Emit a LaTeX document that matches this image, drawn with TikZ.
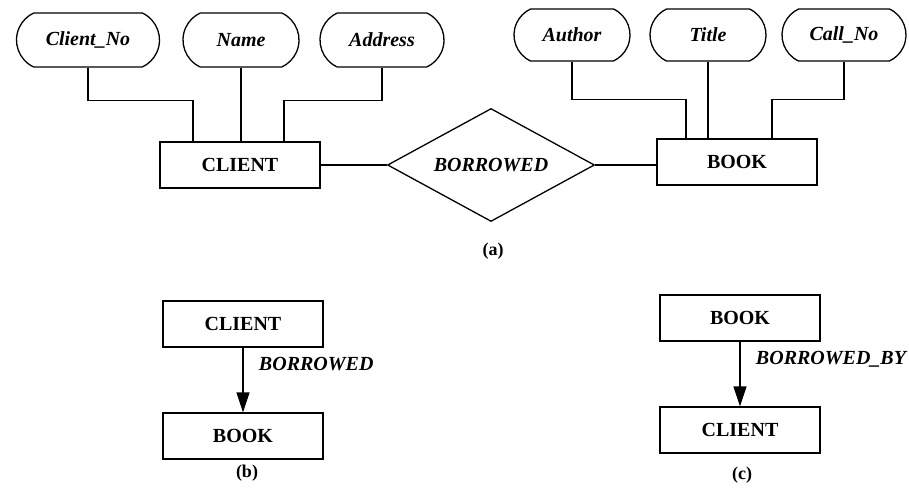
\documentclass[tikz,border=0pt]{standalone}
\usepackage{fontspec}
\setmainfont{Liberation Serif}
\usetikzlibrary{shapes.misc,shapes.geometric,arrows.meta}
\newcommand{\entfont}{\fontsize{20}{22}\selectfont\bfseries}
\newcommand{\attfont}{\fontsize{20}{22}\selectfont\bfseries\itshape}
\newcommand{\capfont}{\fontsize{18}{20}\selectfont\bfseries}
\tikzset{
  entity/.style={draw, line width=1.3pt, minimum width=160pt, minimum height=46pt, inner sep=2pt, font=\entfont},
  attrib/.style={draw, rounded rectangle, rounded rectangle arc length=130, line width=1.3pt, minimum height=54pt, inner sep=2pt, font=\attfont},
  relship/.style={draw, diamond, aspect=2, line width=1.3pt, minimum width=207pt, minimum height=113pt, inner sep=1pt, font=\attfont},
  link/.style={line width=1.3pt},
  flow/.style={line width=1.3pt, -{Triangle[length=20pt,width=13pt]}},
  caption/.style={font=\capfont}
}
\begin{document}
\begin{tikzpicture}[x=1pt, y=-1pt]
  \useasboundingbox (0,0) rectangle (909,489);
  % (a) attributes
  \node[attrib, minimum width=147pt] (cno) at (88,40) {Client\_No};
  \node[attrib, minimum width=120pt] (name) at (241,40) {Name};
  \node[attrib, minimum width=128pt] (addr) at (382,40) {Address};
  \node[attrib, minimum width=120pt, minimum height=52pt] (auth) at (572,35) {Author};
  \node[attrib, minimum width=120pt, minimum height=52pt] (title) at (708,35) {Title};
  \node[attrib, minimum width=128pt, minimum height=52pt] (callno) at (844,35) {Call\_No};
  % (a) entities and relationship
  \node[entity] (client) at (240,165) {CLIENT};
  \node[relship] (borrowed) at (491,165) {BORROWED};
  \node[entity] (book) at (737,162) {BOOK};
  \draw[link] (client.east |- borrowed.west) -- (borrowed.west);
  \draw[link] (borrowed.east) -- (borrowed.east -| book.west);
  \draw[link] (cno.south) -- ++(0,33) -| ([xshift=-47pt]client.north);
  \draw[link] (name.south) -- (name.south |- client.north);
  \draw[link] (addr.south) -- ++(0,33) -| ([xshift=44pt]client.north);
  \draw[link] (auth.south) -- ++(0,38) -| ([xshift=-51pt]book.north);
  \draw[link] (title.south) -- (title.south |- book.north);
  \draw[link] (callno.south) -- ++(0,38) -| ([xshift=35pt]book.north);
  \node[caption] (capa) at (493,251) {(a)};
  % (b)
  \node[entity] (clientb) at (243,324) {CLIENT};
  \node[entity] (bookb) at (243,436) {BOOK};
  \draw[flow] (clientb.south) -- (bookb.north)
    node[pos=0.25, anchor=west, xshift=12pt, font=\attfont] (relb) {BORROWED};
  \node[caption] (capb) at (247,473) {(b)};
  % (c)
  \node[entity] (bookc) at (740,318) {BOOK};
  \node[entity] (clientc) at (740,430) {CLIENT};
  \draw[flow] (bookc.south) -- (clientc.north)
    node[pos=0.28, anchor=west, xshift=12pt, font=\attfont] (relc) {BORROWED\_BY};
  \node[caption] (capc) at (742,475) {(c)};
\end{tikzpicture}
\end{document}
